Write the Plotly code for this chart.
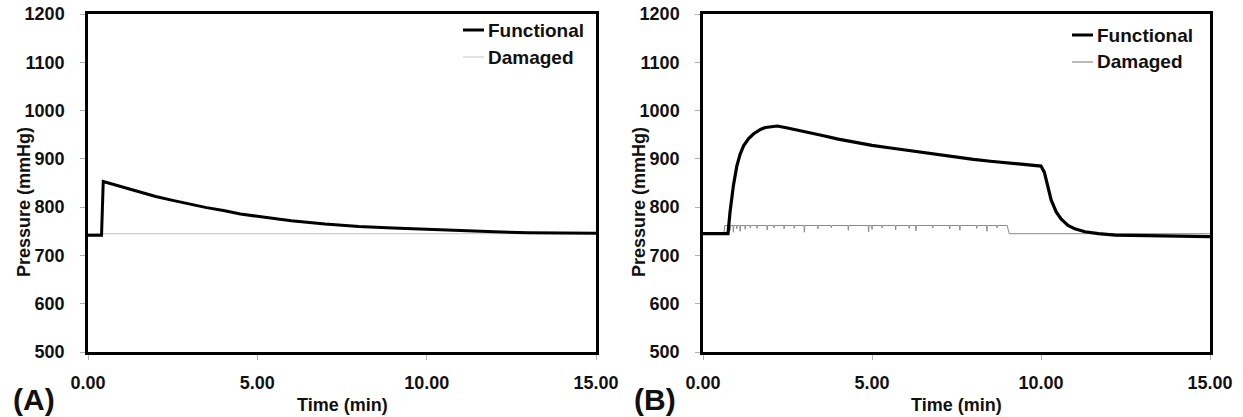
import plotly.graph_objects as go

# ---- Panel A: short pressure pulse ----
time_a_functional = [0, 0.40, 0.45, 0.6, 0.8, 1.0, 1.25, 1.5, 1.75, 2.0, 2.5, 3.0, 3.5,
                     4.0, 4.5, 5.0, 5.5, 6.0, 7.0, 8.0, 9.0, 10.0, 11.0, 12.0, 13.0,
                     14.0, 15.0]
pressure_a_functional = [742, 742, 853, 850, 846, 842, 837, 832, 827, 822, 814, 806, 799,
                         793, 786, 781, 776, 772, 765, 760, 757, 754, 751, 749, 747,
                         746, 746]
time_a_damaged = [0, 15.0]
pressure_a_damaged = [745, 745]

# ---- Panel B: sustained pressure load ----
time_b_functional = [0, 0.74, 0.8, 0.9, 1.0, 1.1, 1.2, 1.35, 1.5, 1.7, 1.85, 2.0, 2.2,
                     2.5, 3.0, 3.5, 4.0, 4.5, 5.0, 5.5, 6.0, 6.5, 7.0, 7.5, 8.0, 8.5,
                     9.0, 9.5, 9.9, 10.0, 10.1, 10.2, 10.3, 10.45, 10.6, 10.8, 11.0,
                     11.3, 11.7, 12.2, 13.0, 14.0, 15.0]
pressure_b_functional = [745, 745, 790, 845, 885, 910, 927, 942, 952, 961, 965, 967, 968,
                         964, 957, 949, 941, 934, 928, 923, 918, 913, 908, 903, 899, 895,
                         892, 889, 887, 885, 872, 845, 815, 790, 775, 762, 755,
                         749, 745, 742, 741, 740, 739]

# damaged line: plateau with brief downward spikes
damaged_b_base = 745
damaged_b_plateau = 762
damaged_b_start = 0.62
damaged_b_end = 9.0
dip_times = [0.80, 0.90, 1.00, 1.10, 1.25, 1.40, 1.60, 1.90, 2.10, 2.40, 2.70, 3.00,
             3.40, 3.80, 4.30, 4.90, 5.00, 5.30, 5.70, 6.10, 6.30, 6.80, 7.30,
             7.60, 8.10, 8.40, 8.70]
dip_values = [752, 748, 755, 750, 754, 757, 756, 753, 757, 755, 756, 748,
              755, 757, 752, 749, 754, 757, 753, 756, 751, 757, 755,
              752, 756, 750, 757]

time_ticks = [0, 5, 10, 15]
pressure_ticks = [500, 600, 700, 800, 900, 1000, 1100, 1200]

# assemble the damaged trace for panel B from the plateau and spike lists
tb_dmg = [0, damaged_b_start, damaged_b_start + 0.02]
pb_dmg = [damaged_b_base, damaged_b_base, damaged_b_plateau]
for t, v in zip(dip_times, dip_values):
    tb_dmg += [t - 0.012, t, t + 0.012]
    pb_dmg += [damaged_b_plateau, v, damaged_b_plateau]
tb_dmg += [damaged_b_end, damaged_b_end + 0.06, 15.0]
pb_dmg += [damaged_b_plateau, damaged_b_base, damaged_b_base]

FONT = "Liberation Sans, Arial, sans-serif"
W, H = 1243, 417

fig = go.Figure()
fig.add_trace(go.Scatter(x=time_a_damaged, y=pressure_a_damaged, mode="lines",
                         line=dict(color="#cfcfcf", width=1.2), xaxis="x", yaxis="y",
                         showlegend=False))
fig.add_trace(go.Scatter(x=time_a_functional, y=pressure_a_functional, mode="lines",
                         line=dict(color="black", width=3), xaxis="x", yaxis="y",
                         showlegend=False))
fig.add_trace(go.Scatter(x=tb_dmg, y=pb_dmg, mode="lines",
                         line=dict(color="#8a8a8a", width=1), xaxis="x2", yaxis="y2",
                         showlegend=False))
fig.add_trace(go.Scatter(x=time_b_functional, y=pressure_b_functional, mode="lines",
                         line=dict(color="black", width=3.2), xaxis="x2", yaxis="y2",
                         showlegend=False))

y_dom = [1 - 352 / H, 1 - 14 / H]
xa_dom = [88 / W, 596 / W]
xb_dom = [703 / W, 1210 / W]

axis_common = dict(showline=True, mirror=True, linecolor="black", linewidth=2.5,
                   showgrid=False, zeroline=False, ticks="outside", ticklen=5,
                   tickcolor="#b0b0b0", tickwidth=1, automargin=False,
                   tickfont=dict(family=FONT, size=18, color="#111", weight="bold"))

x_common = dict(axis_common, range=[0, 15], tickvals=time_ticks, tickformat=".2f",
                ticklabelstandoff=8)
y_common = dict(axis_common, range=[500, 1200], tickvals=pressure_ticks,
                ticklabelstandoff=12)

fig.update_layout(
    width=W, height=H, autosize=False,
    margin=dict(l=0, r=0, t=0, b=0),
    paper_bgcolor="white", plot_bgcolor="white",
    font=dict(family=FONT),
    xaxis=dict(x_common, domain=xa_dom, anchor="y"),
    yaxis=dict(y_common, domain=y_dom, anchor="x"),
    xaxis2=dict(x_common, domain=xb_dom, anchor="y2"),
    yaxis2=dict(y_common, domain=y_dom, anchor="x2"),
)

title_font = dict(family=FONT, size=18, color="#111", weight="bold")
legend_font = dict(family=FONT, size=19, color="#111", weight="bold")
ann = []
shapes = []
panels = [
    dict(left=88, right=596, tag="(A)", tag_x=34, leg_x=463, leg_y=30, dmg="#cfcfcf"),
    dict(left=703, right=1210, tag="(B)", tag_x=655, leg_x=1072, leg_y=35, dmg="#8a8a8a"),
]
for p in panels:
    cx = (p["left"] + p["right"]) / 2
    ann.append(dict(text="Time (min)", x=cx / W, y=1 - 405 / H, xref="paper",
                    yref="paper", showarrow=False, font=title_font,
                    xanchor="center", yanchor="middle"))
    ann.append(dict(text="Pressure (mmHg)", x=(p["left"] - 64) / W, y=1 - 202 / H,
                    xref="paper", yref="paper", showarrow=False, textangle=-90,
                    font=title_font, xanchor="center", yanchor="middle"))
    ann.append(dict(text=p["tag"], x=p["tag_x"] / W, y=1 - 399 / H, xref="paper",
                    yref="paper", showarrow=False,
                    font=dict(family=FONT, size=30, color="#111", weight="bold"),
                    xanchor="center", yanchor="middle"))
    # legend entries
    for i, (name, col, w) in enumerate([("Functional", "black", 3),
                                        ("Damaged", p["dmg"], 1.2)]):
        yy = 1 - (p["leg_y"] + 27 * i) / H
        shapes.append(dict(type="line", xref="paper", yref="paper",
                           x0=p["leg_x"] / W, x1=(p["leg_x"] + 21) / W, y0=yy, y1=yy,
                           line=dict(color=col, width=w)))
        ann.append(dict(text=name, x=(p["leg_x"] + 23) / W, y=yy, xref="paper",
                        yref="paper", showarrow=False, font=legend_font,
                        xanchor="left", yanchor="middle"))

fig.update_layout(annotations=ann, shapes=shapes)

fig.write_html("out.html")
